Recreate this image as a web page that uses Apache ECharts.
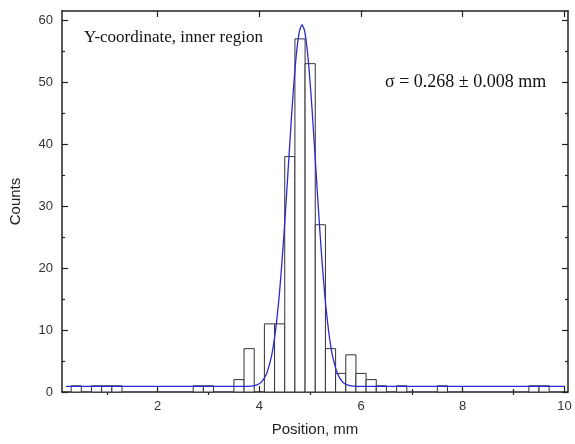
<!DOCTYPE html>
<html>
<head>
<meta charset="utf-8">
<script src="https://cdn.jsdelivr.net/npm/echarts@6/dist/echarts.min.js"></script>
<style>html,body{margin:0;padding:0;background:#fff}#c{width:575px;height:444px}</style>
</head>
<body>
<div id="c"></div>
<script>
// ---- data ----
const binStarts = [0.3, 0.7, 0.9, 1.1, 2.7, 2.9, 3.5, 3.7, 4.1, 4.3, 4.5, 4.7, 4.9, 5.1, 5.3, 5.5, 5.7, 5.9, 6.1, 6.3, 6.7, 7.5, 9.3, 9.5];
const binCounts = [1, 1, 1, 1, 1, 1, 2, 7, 11, 11, 38, 57, 53, 27, 7, 3, 6, 3, 2, 1, 1, 1, 1, 1];
const binWidth = 0.2;
const fitX = [0.2, 3.6, 3.84, 3.94, 4.04, 4.14, 4.24, 4.29, 4.34, 4.39, 4.44, 4.49, 4.54, 4.59, 4.64, 4.69, 4.74, 4.79, 4.84, 4.89, 4.94, 4.99, 5.04, 5.09, 5.14, 5.19, 5.24, 5.29, 5.34, 5.39, 5.44, 5.54, 5.64, 5.74, 5.84, 6.1, 10.0];
const fitY = [0.9, 0.9, 0.96, 1.1, 1.6, 2.9, 5.8, 8.2, 11.4, 15.4, 20.4, 26.1, 32.4, 38.9, 45.3, 50.9, 55.4, 58.3, 59.3, 58.3, 55.4, 50.9, 45.3, 38.9, 32.4, 26.1, 20.4, 15.4, 11.4, 8.2, 5.8, 2.9, 1.6, 1.1, 0.96, 0.9, 0.9];
const xMajorTicks = [2, 4, 6, 8, 10];
const xMinorTicks = [1, 3, 5, 7, 9];
const yMajorTicks = [0, 10, 20, 30, 40, 50, 60];
const yMinorTicks = [5, 15, 25, 35, 45, 55];
const xLabel = 'Position, mm';
const yLabel = 'Counts';
const noteText = 'Y-coordinate, inner region';
const sigmaText = 'σ = 0.268 ± 0.008 mm';

const X_MIN = 0.12, X_MAX = 10.07, Y_MIN = 0, Y_MAX = 61.5;
const AX = '#222';
const SANS = '"Liberation Sans", Arial, sans-serif';
const SERIF = '"Liberation Serif", "Times New Roman", serif';

function xAx(pos, ticks, len, opts) {
  return Object.assign({
    type: 'value', position: pos, min: X_MIN, max: X_MAX,
    axisLine: { show: true, onZero: false, lineStyle: { color: AX, width: 1.5 } },
    axisTick: { show: true, inside: true, length: len, customValues: ticks, lineStyle: { color: AX, width: 1.2 } },
    axisLabel: { show: false },
    splitLine: { show: false }
  }, opts || {});
}
function yAx(pos, ticks, len, opts) {
  return Object.assign({
    type: 'value', position: pos, min: Y_MIN, max: Y_MAX,
    axisLine: { show: true, onZero: false, lineStyle: { color: AX, width: 1.5 } },
    axisTick: { show: true, inside: true, length: len, customValues: ticks, lineStyle: { color: AX, width: 1.2 } },
    axisLabel: { show: false },
    splitLine: { show: false }
  }, opts || {});
}

const bars = binStarts.map((s, i) => [s, s + binWidth, binCounts[i]]);
const fit = fitX.map((x, i) => [x, fitY[i]]);

const chart = echarts.init(document.getElementById('c'), null, { renderer: 'canvas' });
chart.setOption({
  animation: false,
  backgroundColor: '#fff',
  grid: { left: 61, right: 7, top: 11, bottom: 52, containLabel: false },
  xAxis: [
    xAx('bottom', xMajorTicks, 6, {
      axisLabel: { show: true, customValues: xMajorTicks, color: '#333', fontSize: 13, fontFamily: SANS, margin: 8 },
      name: xLabel, nameLocation: 'middle', nameGap: 30,
      nameTextStyle: { color: '#222', fontSize: 15, fontFamily: SANS }
    }),
    xAx('bottom', xMinorTicks, 3, { axisLine: { show: false } }),
    xAx('top', xMajorTicks, 6),
    xAx('top', xMinorTicks, 3, { axisLine: { show: false } })
  ],
  yAxis: [
    yAx('left', yMajorTicks, 6, {
      axisLabel: { show: true, customValues: yMajorTicks, color: '#333', fontSize: 13, fontFamily: SANS, margin: 9 },
      name: yLabel, nameLocation: 'middle', nameGap: 39, nameRotate: 90,
      nameTextStyle: { color: '#222', fontSize: 15, fontFamily: SANS }
    }),
    yAx('left', yMinorTicks, 3, { axisLine: { show: false } }),
    yAx('right', yMajorTicks, 6),
    yAx('right', yMinorTicks, 3, { axisLine: { show: false } })
  ],
  series: [
    {
      type: 'custom',
      xAxisIndex: 0, yAxisIndex: 0,
      data: bars,
      encode: { x: [0, 1], y: 2 },
      renderItem: function (params, api) {
        const p0 = api.coord([api.value(0), api.value(2)]);
        const p1 = api.coord([api.value(1), 0]);
        return {
          type: 'rect',
          shape: { x: p0[0], y: p0[1], width: p1[0] - p0[0], height: p1[1] - p0[1] },
          style: { fill: '#fff', stroke: '#333', lineWidth: 1 }
        };
      },
      z: 2
    },
    {
      type: 'line',
      xAxisIndex: 0, yAxisIndex: 0,
      data: fit,
      showSymbol: false,
      smooth: 0.2,
      lineStyle: { color: '#2a2ad0', width: 1.3 },
      z: 3
    }
  ],
  graphic: [
    { type: 'text', left: 84, top: 29, style: { text: noteText, fill: '#111', font: '17px ' + SERIF } },
    { type: 'text', left: 385, top: 73, style: { text: sigmaText, fill: '#111', font: '18px ' + SERIF } }
  ]
});
</script>
</body>
</html>
